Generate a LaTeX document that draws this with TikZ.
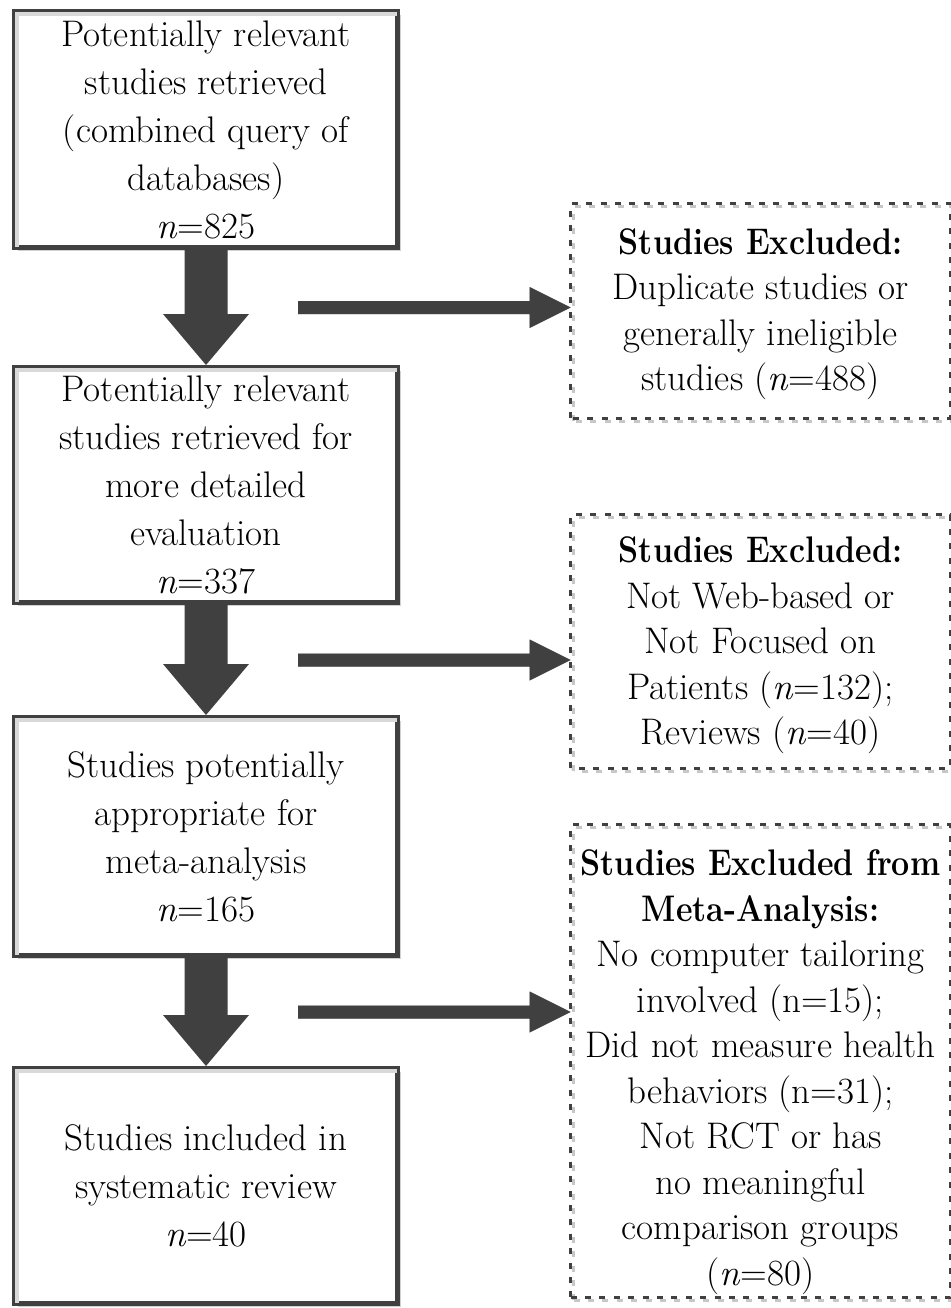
\documentclass[tikz,border=0pt]{standalone}
\usepackage{graphicx}
\usetikzlibrary{calc,shadows}
\definecolor{dk}{HTML}{404040}
\definecolor{shd}{HTML}{9A9A9A}
\newcommand{\bx}[1]{\scalebox{0.87}[1]{\bfseries #1}}
\tikzset{
  x=0.5pt, y=-0.5pt,
  mainbox/.style={draw=dk, line width=2.5pt, fill=white, align=center,
    minimum width=191.5pt, inner sep=0pt, font=\fontsize{18.5}{24}\selectfont,
    drop shadow={shadow xshift=1.8pt, shadow yshift=-1.8pt, fill=black!18, opacity=1}},
  exbox/.style={minimum width=189.5pt, inner sep=0pt},
  extext/.style={align=center, inner sep=0pt, font=\fontsize{18.5}{22.75}\selectfont},
  exline/.style={draw=dk, line width=1.5pt, dash pattern=on 3pt off 4.2pt},
  exshadow/.style={draw=black!22, line width=1.5pt, dash pattern=on 3pt off 4.2pt},
  innerband/.style={draw=black!15, line width=2pt},
  bigarrow/.style={fill=dk},
  sidearrow/.style={fill=dk},
  sideshadow/.style={fill=shd},
}
\begin{document}
\begin{tikzpicture}
\useasboundingbox (0,0) rectangle (951,1308);
\clip (0,0) rectangle (951,1308);
\fill[white] (0,0) rectangle (951,1308);

% main boxes
\node[mainbox, minimum height=118pt, text depth=-2pt] (b1) at (206,129.5)
  {Potentially relevant\\studies retrieved\\(combined query of\\databases)\\\textit{n}=825};
\node[mainbox, minimum height=117.5pt] (b2) at (206,485)
  {Potentially relevant\\studies retrieved for\\more detailed\\evaluation\\\textit{n}=337};
\node[mainbox, minimum height=119pt] (b3) at (206,836.5)
  {Studies potentially\\appropriate for\\meta-analysis\\\textit{n}=165};
\node[mainbox, minimum height=117.5pt] (b4) at (206,1186)
  {Studies included in\\systematic review\\\textit{n}=40};

% inner bevel bands
\foreach \b in {b1,b2,b3,b4}{
  \draw[innerband] ($(\b.south west)+(5,-3)$) |- ($(\b.north east)+(-3,5)$);
}

% excluded boxes
\node[exbox, minimum height=107pt] (e1) at (760.5,311) {};
\node[exbox, minimum height=126.5pt] (e2) at (760.5,641.5) {};
\node[exbox, minimum height=236pt] (e3) at (760.5,1061) {};
\foreach \e in {e1,e2,e3}{
  \draw[exshadow] ($(\e.south west)+(3,3)$) rectangle ($(\e.north east)+(3,3)$);
  \draw[exline] (\e.south west) rectangle (\e.north east);
}
\node[extext] (e1t) at ($(e1.center)+(0,3)$)
  {\bx{Studies Excluded:}\\Duplicate studies or\\generally ineligible\\studies (\textit{n}=488)};
\node[extext] (e2t) at ($(e2.center)+(0,4)$)
  {\bx{Studies Excluded:}\\Not Web-based or\\Not Focused on\\Patients (\textit{n}=132);\\Reviews (\textit{n}=40)};
\node[extext] (e3t) at ($(e3.center)+(0,11)$)
  {\bx{Studies Excluded from}\\\bx{Meta-Analysis:}\\No computer tailoring\\involved (n=15);\\Did not measure health\\behaviors (n=31);\\Not RCT or has\\no meaningful\\comparison groups\\(\textit{n}=80)};

% down arrows
\foreach \a/\b in {b1/b2,b2/b3,b3/b4}{
  \fill[bigarrow] ($(\a.south)+(-21.5,0)$) -- ($(\b.north)+(-21.5,-51)$)
    -- ($(\b.north)+(-43,-51)$) -- (\b.north) -- ($(\b.north)+(43,-51)$)
    -- ($(\b.north)+(21.5,-51)$) -- ($(\a.south)+(21.5,0)$) -- cycle;
}

% side arrows
\coordinate (m1) at ($(b1.south)!0.5!(b2.north)$);
\coordinate (m2) at ($(b2.south)!0.5!(b3.north)$);
\coordinate (m3) at ($(b3.south)!0.5!(b4.north)$);
\foreach \m/\e in {m1/e1,m2/e2,m3/e3}{
  \coordinate (s) at ($(\m)+(92,0)$);
  \coordinate (t) at (\e.west |- \m);
  \begin{scope}[shift={(2,4)}]
    \fill[sideshadow] ($(s)+(0,-6.5)$) -- ($(t)+(-41,-6.5)$) -- ($(t)+(-41,-20.5)$)
      -- (t) -- ($(t)+(-41,20.5)$) -- ($(t)+(-41,6.5)$) -- ($(s)+(0,6.5)$) -- cycle;
  \end{scope}
  \fill[sidearrow] ($(s)+(0,-6.5)$) -- ($(t)+(-41,-6.5)$) -- ($(t)+(-41,-20.5)$)
    -- (t) -- ($(t)+(-41,20.5)$) -- ($(t)+(-41,6.5)$) -- ($(s)+(0,6.5)$) -- cycle;
}
\end{tikzpicture}
\end{document}
